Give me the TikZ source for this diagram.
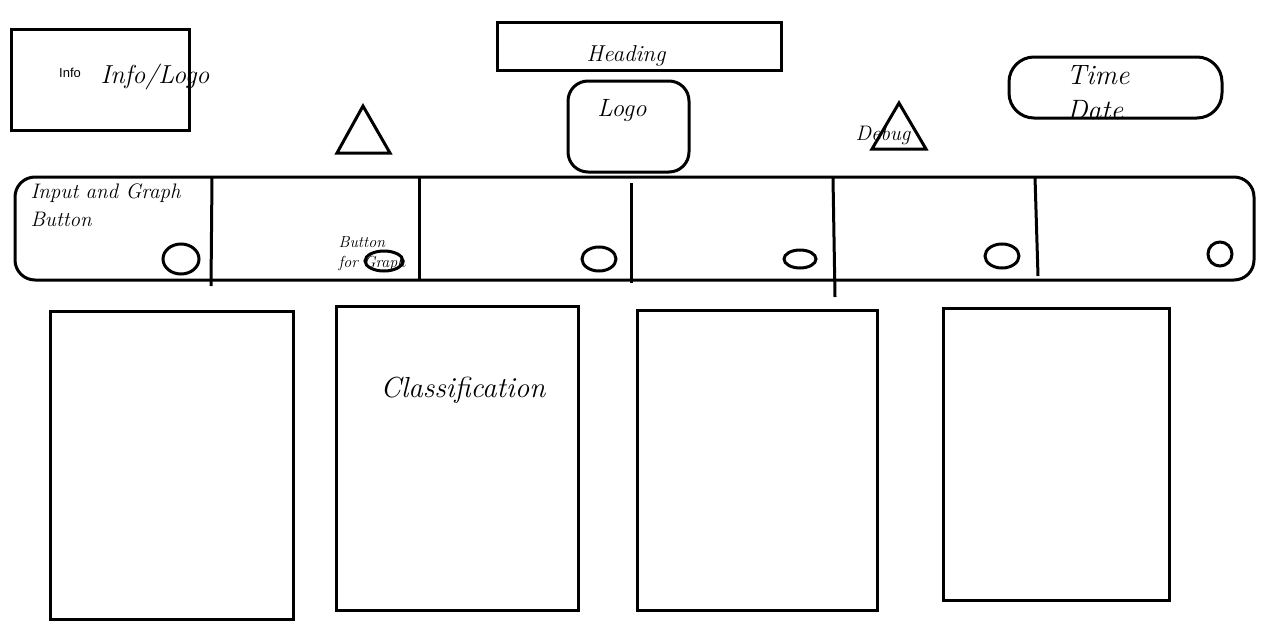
\documentclass[tikz,border=0pt]{standalone}
\usepackage{fontspec}
\newfontfamily\labelfont{Liberation Sans}

\tikzset{
  sketch/.style={line width=3pt, black},
  hand/.style={font=\itshape\fontsize{26}{30}\selectfont},
  handsmall/.style={font=\itshape\fontsize{21}{24}\selectfont, anchor=west},
  handtiny/.style={font=\itshape\fontsize{16}{18}\selectfont, anchor=west}
}

\begin{document}
\begin{tikzpicture}[x=1pt, y=-1pt]
\useasboundingbox (0,0) rectangle (1267,629);

% top row
\draw [sketch] (11,29) rectangle (189,130);
\node (info) [font=\labelfont\fontsize{13}{15}\selectfont] at (70,73) {Info};
\node (infologo) [hand] at (155,77) {Info/Logo};

\draw [sketch] (337,153) -- (390,153) -- (363,106) -- cycle;

\draw [sketch] (497,22) rectangle (781,70);
\node (heading) [font=\itshape\fontsize{23}{26}\selectfont] at (626,56) {Heading};

\draw [sketch, rounded corners=20pt] (568,81) rectangle (689,172);
\node (logo) [font=\itshape\fontsize{25}{28}\selectfont] at (622,111) {Logo};

\draw [sketch] (872,149) -- (926,149) -- (899,103) -- cycle;
\node (debug) [font=\itshape\fontsize{21}{24}\selectfont] at (883,135) {Debug};

\draw [sketch, rounded corners=25pt] (1009,57) rectangle (1222,118);
\node (time) [font=\itshape\fontsize{28}{32}\selectfont] at (1098,75) {Time};
\node (date) [font=\itshape\fontsize{28}{32}\selectfont] at (1095,110) {Date};

% button bar
\draw [sketch, rounded corners=20pt] (15,177) rectangle (1254,280);
\draw [sketch] (212,178) -- (211,286);
\draw [sketch] (419,177) -- (419,280);
\draw [sketch] (631,183) -- (631,283);
\draw [sketch] (833,178) -- (835,297);
\draw [sketch] (1035,177) -- (1038,276);

\node (input) [handsmall] at (27,193) {Input and Graph};
\node (inputb) [handsmall] at (27,219) {Button};
\node (btn) [handtiny] at (335,242) {Button};
\node (btnfor) [handtiny] at (335,263) {for Graph};

\draw [sketch] (181,259) ellipse (18 and 15);
\draw [sketch] (384,261) ellipse (19 and 10);
\draw [sketch] (599,259) ellipse (17 and 12);
\draw [sketch] (800,259) ellipse (16 and 9);
\draw [sketch] (1002,256) ellipse (17 and 12);
\draw [sketch] (1220,254) ellipse (12 and 12);

% panels
\draw [sketch] (50,311) rectangle (293,619);
\draw [sketch] (336,306) rectangle (578,610);
\node (classif) [font=\itshape\fontsize{29}{33}\selectfont] at (463,390) {Classification};
\draw [sketch] (637,310) rectangle (877,610);
\draw [sketch] (943,308) rectangle (1169,600);

\end{tikzpicture}
\end{document}
